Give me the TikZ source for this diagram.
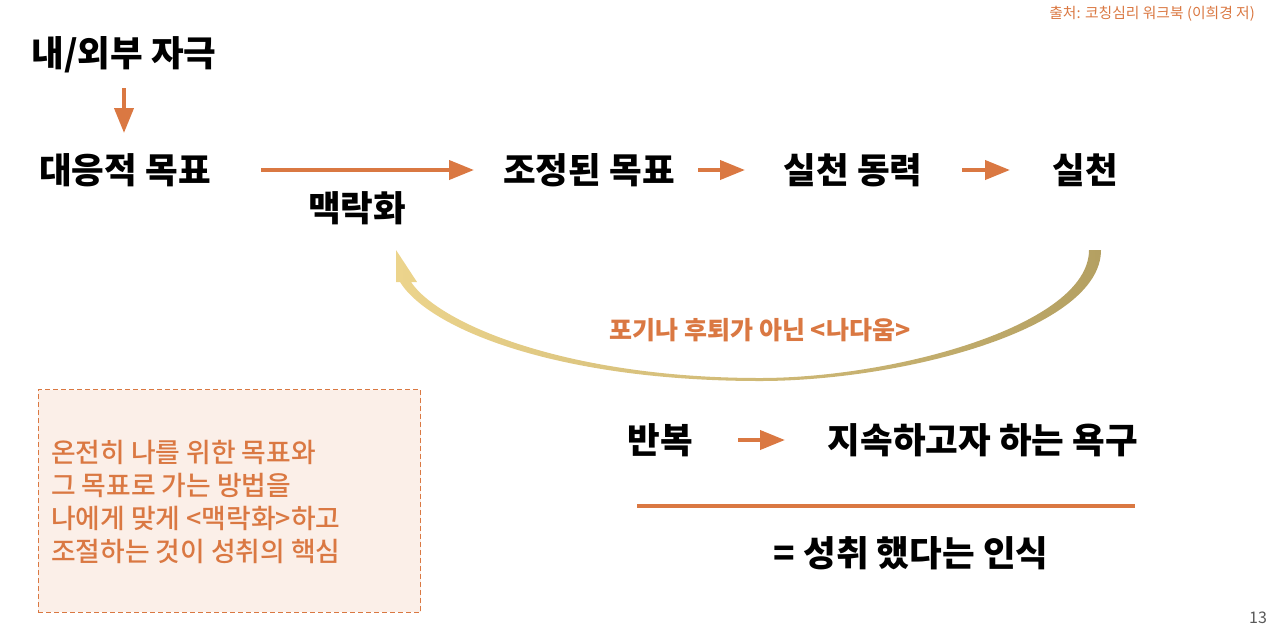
\documentclass[tikz,border=0pt]{standalone}
\usepackage{fontspec}
\setmainfont{Noto Sans CJK KR}
\newfontfamily\krmed{Noto Sans CJK KR}[UprightFont={* Medium}]
\usetikzlibrary{arrows.meta}
\definecolor{org}{HTML}{DA7842}
\definecolor{notefill}{HTML}{FBEFE8}
\definecolor{goldL}{HTML}{ECD48C}
\definecolor{goldR}{HTML}{B4A062}
\definecolor{pgnum}{HTML}{595959}
\tikzset{
  main/.style={font=\fontsize{35.5}{40}\selectfont\bfseries, text=black, inner sep=0pt},
  arclabel/.style={font=\fontsize{25}{30}\selectfont\bfseries, text=org, inner sep=0pt},
  srctext/.style={font=\fontsize{14.8}{18}\selectfont, text=org, inner sep=0pt},
  notetext/.style={font=\krmed\fontsize{26.8}{33.3}\selectfont, text=org, inner sep=0pt, align=left},
  notebox/.style={draw=org, fill=notefill, line width=1.2pt, dash pattern=on 5pt off 3pt, inner sep=0pt},
  arr/.style={draw=org, line width=4pt, -{Triangle[length=25pt,width=19pt]}},
  rule/.style={draw=org, line width=4pt}
}
\begin{document}
\begin{tikzpicture}[x=1pt,y=-1pt]
\useasboundingbox (0,0) rectangle (1280,641);

% source
\node[srctext, anchor=east] (src) at (1255,14) {출처: 코칭심리 워크북 (이희경 저)};

% top row
\node[main] (stim) at (124,55) {내/외부 자극};
\node[main] (react) at (125,170) {대응적 목표};
\node[main] (ctx) at (357,208) {맥락화};
\node[main] (adj) at (589,170) {조정된 목표};
\node[main] (drive) at (853,170) {실천 동력};
\node[main] (act) at (1085,170) {실천};

\coordinate (d1) at (124,88);  \coordinate (d2) at (124,133);
\coordinate (h1) at (261,170); \coordinate (h2) at (474,170);
\coordinate (s1) at (698,170); \coordinate (s2) at (745,170);
\coordinate (t1) at (962,170); \coordinate (t2) at (1010,170);
\draw[arr] (d1) -- (d2);
\draw[arr] (h1) -- (h2);
\draw[arr] (s1) -- (s2);
\draw[arr] (t1) -- (t2);

% curved return arrow
\shade[left color=goldL, right color=goldR]
  (1101,250) .. controls (1101,330) and (900,381) .. (760,381)
  .. controls (560,381) and (430,330) .. (400,282)
  -- (396,282) -- (396,250) -- (417,282) -- (411,282)
  .. controls (440,325) and (570,378) .. (760,378)
  .. controls (895,378) and (1089,325) .. (1089,250) -- cycle;
\node[arclabel] (self) at (760,330) {포기나 후퇴가 아닌 <나다움>};

% note box
\node[notebox, anchor=north west, minimum width=382.5pt, minimum height=222.5pt] (note) at (37.5,389) {};
\node[notetext, anchor=west] (notetxt) at (51,502) {온전히 나를 위한 목표와\\그 목표로 가는 방법을\\나에게 맞게 <맥락화>하고\\조절하는 것이 성취의 핵심};

% bottom right
\node[main] (rep) at (660,440) {반복};
\node[main] (want) at (983,440) {지속하고자 하는 욕구};
\coordinate (b1) at (738,440); \coordinate (b2) at (785,440);
\draw[arr] (b1) -- (b2);
\coordinate (r1) at (637,506); \coordinate (r2) at (1135,506);
\draw[rule] (r1) -- (r2);
\node[main] (result) at (911,553) {= 성취 했다는 인식};

\node[font=\fontsize{16}{19}\selectfont, text=pgnum, inner sep=0pt] (pg) at (1258,618) {13};
\end{tikzpicture}
\end{document}
